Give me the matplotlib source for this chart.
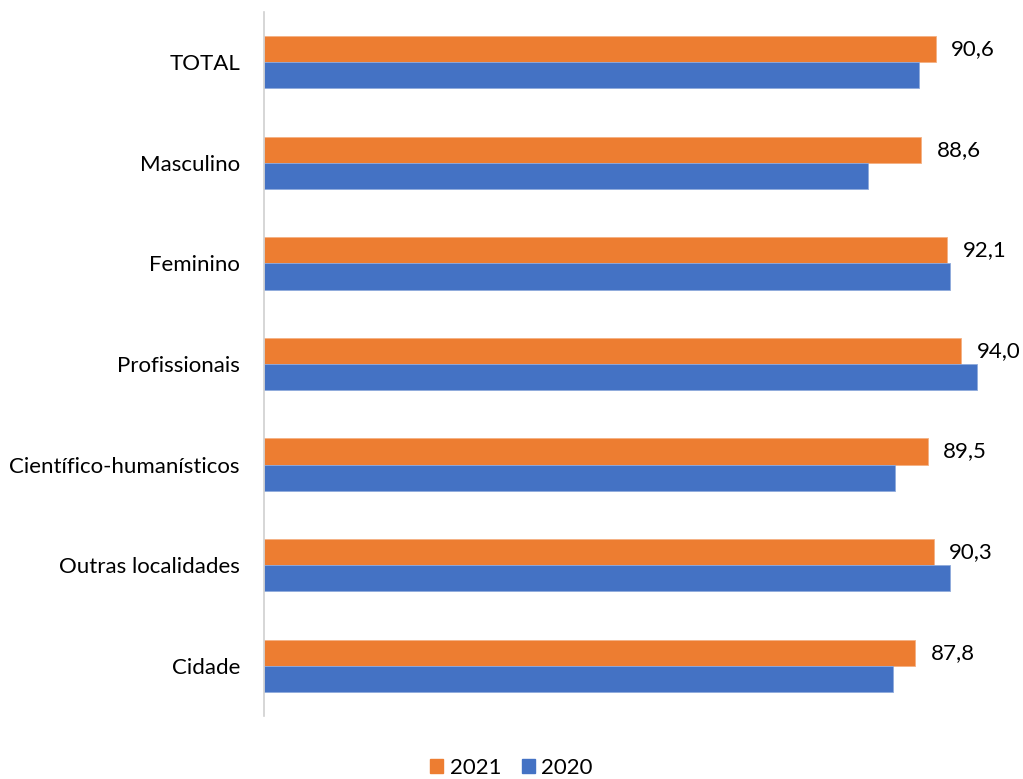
import matplotlib
matplotlib.use("Agg")
import matplotlib.pyplot as plt
from matplotlib.patches import Patch

categories = ["TOTAL", "Masculino", "Feminino", "Profissionais",
              "Científico-humanísticos", "Outras localidades", "Cidade"]
values_2021 = [90.6, 88.6, 92.1, 94.0, 89.5, 90.3, 87.8]
values_2020 = [88.4, 81.5, 92.5, 96.1, 85.1, 92.5, 84.8]
labels_2021 = ["90,6", "88,6", "92,1", "94,0", "89,5", "90,3", "87,8"]
series_names = ["2021", "2020"]

c21 = "#ED7D31"
c20 = "#4472C4"
plt.rcParams['font.family'] = ['Lato', 'DejaVu Sans']

fig = plt.figure(figsize=(10.23, 7.79), dpi=100)
ax = fig.add_axes([263.5/1023, 63/779, 742/1023, 704/779])

h = 0.26
ys = list(range(len(categories)))
ax.barh([y - h/2 for y in ys], values_2021, height=h, color=c21,
        edgecolor="#F4B183", linewidth=0.6)
ax.barh([y + h/2 for y in ys], values_2020, height=h, color=c20,
        edgecolor="#8FAADC", linewidth=0.6)

for y, v, t in zip(ys, values_2021, labels_2021):
    ax.text(v + 2.1, y - h/2, t, va="center", ha="left", fontsize=16, color="#000000")

ax.set_xlim(0, 100)
ax.set_ylim(6.5, -0.5)
ax.set_yticks(ys)
ax.set_yticklabels(categories, fontsize=16, color="#000000")
ax.tick_params(axis="y", length=0, pad=17)
ax.set_xticks([])
for s in ["top", "right", "bottom"]:
    ax.spines[s].set_visible(False)
ax.spines["left"].set_color("#D0D0D0")
ax.spines["left"].set_linewidth(1.2)

handles = [Patch(color=c21, label=series_names[0]), Patch(color=c20, label=series_names[1])]
fig.legend(handles=handles, loc="center", bbox_to_anchor=(0.5, 1 - 768/779), ncol=2,
           frameon=False, fontsize=16, handlelength=0.6, handleheight=0.6,
           handletextpad=0.3, columnspacing=0.9)

fig.savefig("out.png", dpi=100)
